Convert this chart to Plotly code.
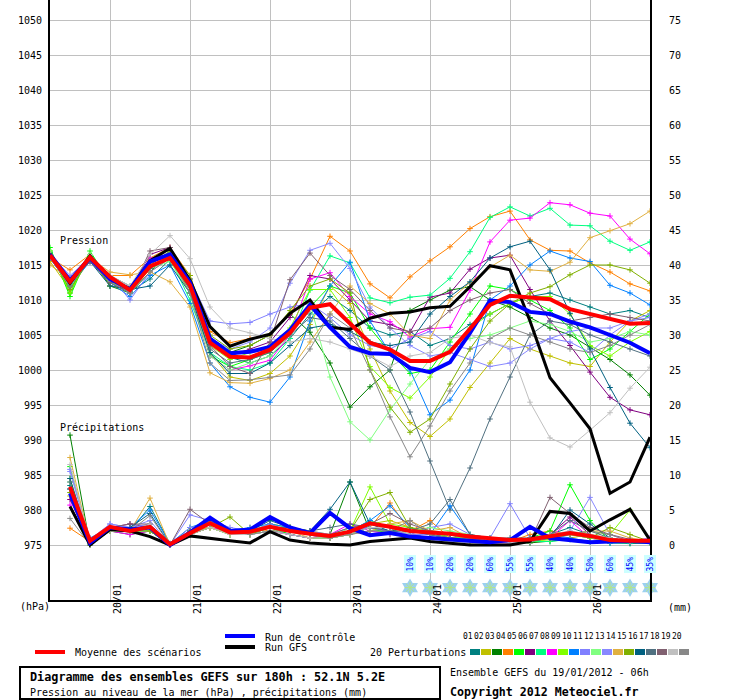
import pandas as pd
import plotly.graph_objects as go

# GEFS run of 19/01/2012 06h, one value every 6h over 180h
times = pd.date_range('2012-01-19 06:00', periods=31, freq='6h')
day_ticks = pd.date_range('2012-01-20', periods=7, freq='D')
day_labels = ['20/01', '21/01', '22/01', '23/01', '24/01', '25/01', '26/01']

# sea level pressure (hPa)
mean_p = [1016.4, 1012.6, 1016.1, 1013.3, 1011.4, 1014.8, 1016.0, 1012.1, 1003.9, 1001.9, 1001.8,
          1002.9, 1005.3, 1008.9, 1009.4, 1006.7, 1003.9, 1002.9, 1001.3, 1001.3, 1002.6,
          1005.9, 1009.3, 1010.6, 1010.4, 1010.1, 1008.7, 1008.0, 1007.3, 1006.6, 1006.7]
control_p = [1016.5, 1012.8, 1016.0, 1013.0, 1011.5, 1015.5, 1016.5, 1012.5, 1004.5, 1002.4, 1002.6,
             1003.3, 1005.7, 1009.3, 1006.1, 1003.3, 1002.4, 1002.3, 1000.3, 999.7, 1001.1,
             1005.3, 1009.9, 1009.7, 1008.3, 1008.0, 1006.9, 1006.1, 1005.0, 1003.9, 1002.4]
gfs_p = [1016.6, 1012.4, 1016.3, 1013.0, 1011.6, 1015.6, 1017.4, 1012.8, 1006.2, 1003.4, 1004.4,
         1005.1, 1008.1, 1010.0, 1006.1, 1005.8, 1007.4, 1008.1, 1008.3, 1008.9, 1009.1,
         1011.9, 1014.9, 1014.3, 1007.0, 998.9, 995.3, 991.6, 982.4, 984.0, 990.4]

p01 = [1016.8, 1012.3, 1016.2, 1013.4, 1011.2, 1013.0, 1015.8, 1011.5, 1004.0, 1001.8, 1001.0, 1002.0, 1004.5, 1008.0, 1010.5, 1008.5, 1006.0, 1005.0, 1005.5, 1003.5, 1004.5, 1006.5, 1008.0, 1009.5, 1010.5, 1011.0, 1010.0, 1009.0, 1008.0, 1008.5, 1007.5]
p02 = [1015.5, 1011.5, 1015.8, 1012.8, 1011.0, 1014.5, 1016.5, 1011.0, 1002.5, 999.0, 998.5, 999.5, 1002.0, 1006.5, 1012.0, 1009.5, 1003.0, 997.0, 992.5, 990.5, 993.0, 997.5, 1001.0, 1004.5, 1003.0, 1002.0, 1001.0, 1000.5, 1004.0, 1007.0, 1008.5]
p03 = [1017.0, 1011.0, 1016.5, 1012.0, 1011.0, 1014.0, 1017.0, 1013.0, 1004.5, 1002.5, 1003.5, 1005.0, 1008.0, 1005.4, 1001.0, 994.7, 997.6, 1000.0, 1008.5, 1010.0, 1011.4, 1011.9, 1010.0, 1009.0, 1007.5, 1006.0, 1005.0, 1003.3, 1001.5, 999.3, 996.4]
p04 = [1016.0, 1014.3, 1016.5, 1013.5, 1013.5, 1016.0, 1017.5, 1013.5, 1005.5, 1003.9, 1004.5, 1005.0, 1008.0, 1013.0, 1019.1, 1017.0, 1012.3, 1010.3, 1013.3, 1015.6, 1017.6, 1020.2, 1021.9, 1022.7, 1018.6, 1017.1, 1017.0, 1015.3, 1014.0, 1012.3, 1011.3]
p05 = [1017.5, 1010.5, 1017.0, 1012.5, 1011.0, 1016.0, 1016.5, 1011.5, 1002.0, 1000.5, 1001.5, 1002.5, 1005.5, 1009.0, 1012.0, 1011.0, 1006.0, 1002.5, 999.5, 1000.0, 1004.0, 1008.0, 1012.0, 1011.5, 1010.0, 1008.5, 1006.0, 1001.5, 1003.0, 1005.5, 1008.0]
p06 = [1016.0, 1012.0, 1016.0, 1013.0, 1011.5, 1016.5, 1017.5, 1012.5, 1004.0, 1002.0, 1003.0, 1004.0, 1007.5, 1013.5, 1013.0, 1010.0, 1007.0, 1006.5, 1005.4, 1010.4, 1011.0, 1014.4, 1016.0, 1016.4, 1011.5, 1007.0, 1003.5, 999.7, 996.1, 994.3, 993.6]
p07 = [1016.5, 1011.5, 1016.5, 1012.5, 1011.0, 1015.0, 1016.0, 1010.0, 1002.5, 1000.5, 1000.0, 1001.0, 1004.5, 1011.4, 1016.3, 1015.3, 1010.3, 1009.6, 1010.4, 1010.7, 1013.1, 1016.9, 1021.8, 1023.3, 1022.0, 1023.1, 1020.7, 1020.6, 1018.4, 1017.1, 1018.3]
p08 = [1016.0, 1012.5, 1016.0, 1013.0, 1011.5, 1016.0, 1016.5, 1011.5, 1002.0, 1000.0, 1000.6, 1001.4, 1005.0, 1013.0, 1013.9, 1010.5, 1008.0, 1006.9, 1004.7, 1005.9, 1006.1, 1011.4, 1018.3, 1021.4, 1021.7, 1023.9, 1023.6, 1022.4, 1022.0, 1018.7, 1016.6]
p09 = [1017.0, 1011.0, 1016.5, 1012.5, 1011.5, 1015.5, 1016.5, 1012.5, 1003.5, 1001.5, 1002.5, 1003.5, 1006.0, 1011.5, 1011.5, 1007.5, 1000.5, 997.5, 996.0, 999.0, 1003.0, 1006.0, 1008.0, 1009.5, 1010.5, 1010.5, 1008.0, 1003.5, 1002.0, 1004.0, 1005.5]
p10 = [1016.0, 1012.0, 1015.5, 1012.5, 1010.5, 1013.5, 1015.0, 1009.5, 1001.0, 997.6, 996.1, 995.4, 999.0, 1007.0, 1012.0, 1015.4, 1007.0, 1002.4, 1000.0, 993.6, 995.7, 1000.0, 1010.0, 1012.0, 1015.0, 1017.0, 1016.0, 1015.5, 1012.1, 1011.0, 1009.3]
p11 = [1016.0, 1013.0, 1015.5, 1013.5, 1010.0, 1014.0, 1016.0, 1013.0, 1007.0, 1006.6, 1006.8, 1008.0, 1009.0, 1009.5, 1007.5, 1005.0, 1003.5, 1003.0, 1004.5, 1005.5, 1003.5, 1003.0, 1004.0, 1003.0, 1003.5, 1004.5, 1004.0, 1002.5, 1005.0, 1007.0, 1007.5]
p12 = [1017.0, 1012.0, 1016.0, 1013.0, 1011.0, 1014.5, 1015.5, 1011.0, 1002.0, 1000.0, 1001.0, 1002.0, 1005.0, 1009.5, 999.0, 992.6, 990.0, 994.3, 998.0, 1001.5, 1003.0, 1004.5, 1005.0, 1006.0, 1007.0, 1006.5, 1005.5, 1004.0, 1004.5, 1005.5, 1005.0]
p13 = [1016.5, 1013.5, 1016.0, 1012.5, 1011.0, 1015.0, 1017.0, 1012.0, 1004.5, 1003.0, 1004.0, 1006.0, 1012.4, 1017.1, 1018.1, 1014.5, 1009.0, 1006.0, 1003.5, 1002.0, 1002.5, 1001.5, 1000.5, 1001.0, 1003.0, 1004.5, 1005.5, 1006.0, 1006.0, 1007.0, 1008.0]
p14 = [1015.0, 1013.0, 1016.0, 1014.0, 1013.6, 1014.0, 1012.6, 1009.0, 999.6, 998.2, 998.1, 998.8, 1000.0, 1004.0, 1008.0, 1012.0, 1009.5, 1008.0, 1005.0, 1004.5, 1010.0, 1012.5, 1014.7, 1016.4, 1014.3, 1014.1, 1015.4, 1018.9, 1019.9, 1020.9, 1022.7]
p15 = [1016.5, 1011.5, 1016.0, 1012.0, 1011.5, 1015.0, 1017.0, 1013.5, 1005.0, 1003.0, 1003.5, 1005.0, 1008.5, 1012.0, 1013.0, 1011.0, 1000.0, 994.7, 991.1, 993.0, 998.0, 1003.0, 1007.0, 1009.5, 1011.0, 1011.9, 1013.6, 1015.0, 1015.0, 1014.3, 1012.4]
p16 = [1016.0, 1012.5, 1015.5, 1012.0, 1011.5, 1012.0, 1015.0, 1011.0, 1002.5, 999.5, 999.5, 1001.0, 1003.5, 1006.0, 1006.5, 1005.5, 1004.0, 1003.5, 1004.0, 1008.0, 1010.5, 1012.6, 1016.0, 1017.6, 1018.4, 1014.3, 1008.1, 1003.0, 997.5, 992.4, 988.9]
p17 = [1016.5, 1012.0, 1016.0, 1013.5, 1012.0, 1014.5, 1016.0, 1011.5, 1003.0, 1001.0, 1001.5, 1002.5, 1005.0, 1007.5, 1007.0, 1004.5, 1002.0, 1000.0, 994.0, 987.0, 980.0, 986.0, 993.0, 999.0, 1005.0, 1007.0, 1006.5, 1005.0, 1004.0, 1003.0, 1002.0]
p18 = [1016.5, 1012.5, 1015.5, 1012.5, 1011.0, 1017.0, 1017.5, 1012.5, 1003.5, 1000.5, 999.5, 1004.0, 1012.9, 1016.7, 1013.5, 1011.5, 1008.5, 1006.0, 1005.5, 1006.0, 1008.5, 1010.0, 1011.0, 1011.5, 1009.5, 1008.0, 1007.0, 1007.5, 1008.0, 1007.5, 1007.0]
p19 = [1016.5, 1012.5, 1016.5, 1013.5, 1012.0, 1016.5, 1019.2, 1015.9, 1009.0, 1006.0, 1005.3, 1004.5, 1004.0, 1004.5, 1004.0, 1003.0, 1002.0, 1000.5, 1002.0, 1002.5, 1004.5, 1005.0, 1003.9, 1003.3, 995.4, 990.3, 989.0, 991.4, 993.9, 997.4, 1000.4]
p20 = [1016.0, 1012.0, 1016.0, 1013.0, 1011.0, 1014.0, 1016.0, 1011.0, 1001.0, 998.5, 998.6, 999.0, 999.3, 1003.0, 1008.0, 1006.0, 1000.0, 993.3, 987.6, 992.0, 997.0, 1001.0, 1004.5, 1006.0, 1005.0, 1004.0, 1003.0, 1002.5, 1003.5, 1005.0, 1006.5]

# precipitation (mm), from +6h
mean_r = [8.3, 0.6, 2.6, 2.0, 2.6, 0.1, 1.7, 3.1, 1.8, 1.9, 2.6, 2.0, 1.6, 1.3, 1.9, 3.1, 2.6, 2.0, 1.8, 1.6,
          1.2, 1.0, 0.7, 0.8, 1.3, 1.7, 1.3, 0.7, 0.6, 0.6]
control_r = [7.4, 0.3, 2.5, 2.2, 2.5, 0.0, 1.8, 3.9, 2.0, 2.2, 4.0, 2.5, 1.7, 4.6, 2.4, 1.4, 1.7, 1.2, 1.0, 0.8,
             0.5, 0.4, 0.7, 2.6, 1.0, 0.7, 0.4, 0.5, 0.6, 0.4]
gfs_r = [5.5, 0.0, 2.2, 2.0, 1.2, 0.0, 1.3, 0.9, 0.6, 0.3, 1.9, 0.7, 0.3, 0.1, 0.0, 0.5, 0.7, 1.0, 0.5, 0.2,
         0.0, 0.0, 0.0, 0.5, 4.8, 4.5, 2.0, 3.6, 5.1, 0.7]

r01 = [8.5, 0.5, 2.5, 2.0, 5.5, 0.2, 1.5, 3.5, 1.5, 2.0, 2.5, 1.5, 1.0, 1.0, 1.5, 2.5, 2.0, 1.5, 1.0, 1.0, 0.5, 0.5, 0.3, 0.5, 1.5, 2.5, 1.5, 0.5, 0.3, 0.5]
r02 = [7.0, 0.3, 2.0, 2.5, 2.0, 0.0, 2.0, 2.5, 2.0, 1.5, 3.0, 2.5, 2.0, 1.5, 2.0, 3.0, 3.5, 2.5, 2.0, 1.0, 1.0, 0.5, 0.5, 0.5, 0.8, 1.0, 1.5, 1.0, 0.5, 0.5]
r03 = [15.7, 0.0, 2.0, 1.5, 2.0, 0.0, 1.5, 2.5, 1.5, 1.5, 2.0, 1.5, 1.0, 1.5, 9.0, 2.0, 2.0, 2.5, 1.5, 1.0, 0.8, 0.5, 0.3, 0.3, 0.5, 0.8, 0.5, 0.3, 0.2, 0.3]
r04 = [2.4, 0.5, 2.0, 2.5, 2.5, 0.0, 2.0, 3.0, 1.5, 2.5, 2.0, 2.5, 1.5, 1.0, 1.5, 2.5, 6.0, 2.0, 3.5, 1.0, 0.5, 0.5, 0.5, 1.5, 2.0, 1.5, 1.0, 0.5, 0.5, 0.3]
r05 = [11.2, 0.5, 2.0, 2.5, 2.0, 0.0, 2.0, 2.5, 1.5, 1.5, 2.5, 1.5, 1.0, 1.0, 1.5, 2.5, 1.5, 1.5, 1.0, 0.5, 0.5, 0.5, 0.5, 1.0, 2.0, 8.6, 3.5, 0.5, 0.3, 0.5]
r06 = [6.5, 0.3, 2.5, 3.0, 2.5, 0.0, 1.5, 3.0, 2.0, 2.0, 2.5, 2.0, 1.5, 1.0, 2.0, 2.5, 2.0, 1.5, 1.5, 1.0, 1.0, 0.5, 0.5, 1.0, 1.5, 4.0, 1.5, 0.5, 0.5, 0.5]
r07 = [8.0, 0.5, 2.0, 2.0, 2.0, 0.0, 1.5, 3.0, 1.5, 1.5, 2.0, 1.5, 1.0, 1.0, 2.0, 3.5, 2.5, 1.5, 1.0, 1.5, 0.5, 0.5, 0.5, 0.5, 0.5, 0.8, 0.5, 0.3, 0.3, 0.5]
r08 = [5.7, 0.3, 2.0, 1.5, 2.0, 0.0, 1.5, 2.5, 2.0, 1.5, 2.0, 1.5, 1.0, 1.5, 3.0, 2.0, 1.5, 1.5, 1.5, 1.0, 0.5, 0.3, 0.3, 0.5, 1.0, 3.5, 1.0, 0.5, 0.5, 1.0]
r09 = [9.5, 0.3, 2.5, 2.0, 2.5, 0.0, 2.5, 3.0, 2.0, 2.0, 3.0, 2.5, 1.5, 1.5, 2.0, 8.3, 3.0, 2.5, 2.0, 1.0, 1.0, 0.5, 0.5, 0.5, 0.8, 1.5, 2.0, 1.5, 5.0, 0.5]
r10 = [8.0, 1.0, 2.5, 2.5, 5.0, 0.2, 2.5, 3.5, 2.0, 2.5, 3.0, 2.5, 1.5, 1.0, 2.0, 3.5, 5.6, 2.5, 1.5, 5.6, 1.5, 0.5, 0.5, 0.5, 1.5, 1.0, 0.5, 0.3, 0.3, 0.3]
r11 = [10.8, 0.8, 3.0, 2.5, 3.0, 0.0, 4.3, 3.5, 2.5, 2.0, 3.0, 2.0, 2.0, 1.5, 2.5, 2.5, 2.0, 1.5, 2.5, 3.0, 1.5, 1.0, 5.9, 1.0, 1.0, 1.5, 1.0, 0.5, 0.5, 0.5]
r12 = [9.0, 0.5, 2.0, 2.0, 2.0, 0.0, 1.5, 2.5, 1.5, 1.5, 2.0, 2.0, 1.5, 1.0, 2.5, 3.0, 2.5, 2.0, 2.5, 2.0, 1.5, 1.0, 0.5, 0.5, 1.0, 1.5, 1.0, 0.5, 0.5, 0.3]
r13 = [10.5, 0.5, 3.0, 2.5, 3.5, 0.0, 2.5, 3.0, 2.0, 2.0, 2.5, 2.0, 1.5, 1.0, 2.0, 2.5, 2.0, 1.5, 1.5, 1.0, 0.5, 0.5, 0.5, 0.5, 1.0, 2.0, 6.8, 1.5, 0.5, 1.0]
r14 = [12.5, 0.3, 2.5, 2.0, 6.7, 0.0, 2.0, 2.5, 1.5, 2.0, 2.5, 2.0, 1.0, 1.0, 1.5, 2.0, 3.0, 3.5, 2.0, 2.5, 1.0, 0.5, 0.5, 1.0, 1.5, 1.5, 2.0, 2.0, 1.0, 0.5]
r15 = [7.5, 0.5, 2.0, 2.0, 2.0, 0.0, 1.5, 2.5, 4.0, 1.5, 2.5, 2.0, 1.5, 1.0, 2.0, 6.5, 7.5, 2.5, 1.5, 1.0, 0.5, 0.5, 0.5, 0.5, 1.0, 1.5, 1.0, 2.5, 1.5, 0.5]
r16 = [9.5, 0.3, 2.5, 2.5, 4.5, 0.0, 2.0, 3.0, 2.0, 2.0, 3.5, 2.5, 2.0, 5.1, 9.0, 3.0, 2.0, 2.0, 1.5, 1.0, 0.5, 0.5, 0.5, 0.5, 1.0, 5.0, 3.0, 1.0, 0.5, 0.5]
r17 = [9.0, 0.5, 2.5, 2.0, 3.0, 0.0, 2.0, 3.5, 2.0, 2.0, 2.5, 2.5, 2.0, 2.5, 3.0, 2.5, 2.0, 2.0, 3.0, 6.5, 1.5, 1.0, 1.0, 1.0, 1.5, 3.5, 2.0, 1.0, 0.5, 0.5]
r18 = [8.0, 0.5, 2.5, 3.0, 3.0, 0.0, 5.1, 3.0, 2.0, 2.0, 2.5, 2.0, 1.5, 1.5, 2.5, 3.0, 4.5, 3.0, 2.0, 1.5, 1.0, 0.5, 0.5, 0.5, 6.8, 4.5, 2.5, 1.5, 0.8, 0.5]
r19 = [11.5, 0.3, 2.0, 2.0, 3.0, 0.0, 1.5, 2.5, 1.5, 1.5, 2.0, 1.5, 1.0, 1.0, 1.5, 2.5, 2.5, 1.5, 1.0, 0.5, 0.3, 0.3, 0.3, 0.5, 1.5, 2.0, 1.5, 1.0, 0.5, 0.5]
r20 = [3.8, 0.0, 2.5, 2.0, 4.2, 0.0, 2.0, 3.0, 2.0, 1.5, 2.0, 2.0, 1.5, 1.0, 1.5, 2.0, 2.0, 3.5, 1.5, 1.0, 0.5, 0.5, 0.5, 0.5, 1.0, 1.5, 2.0, 1.5, 0.5, 0.5]

pert_colors = ['#008080', '#c0c000', '#008000', '#ff8000', '#00ff00', '#800080', '#00ff80',
               '#ff00ff', '#80ff00', '#0080ff', '#8080ff', '#80ff80', '#8888ff', '#e0b040',
               '#80b000', '#006080', '#507080', '#806070', '#c0c0c0', '#888888']

# snow probability (%) from 24/01 00h
snow_pct = [10, 10, 20, 20, 60, 55, 55, 40, 40, 50, 60, 45, 35]

pert_p = [p01, p02, p03, p04, p05, p06, p07, p08, p09, p10,
          p11, p12, p13, p14, p15, p16, p17, p18, p19, p20]
pert_r = [r01, r02, r03, r04, r05, r06, r07, r08, r09, r10,
          r11, r12, r13, r14, r15, r16, r17, r18, r19, r20]

FONT = 'DejaVu Sans Mono'
W, H = 740, 700
L, R, T, B = 50, 90, 0, 100


def px(x):
    return (x - L) / (W - L - R)


def py(y):
    return (H - B - y) / (H - T - B)


fig = go.Figure()

for k in range(20):
    c = pert_colors[k]
    mk = dict(symbol='cross-thin', size=4, line=dict(width=1, color=c), color=c)
    fig.add_trace(go.Scatter(x=times, y=pert_p[k], mode='lines+markers',
                             line=dict(color=c, width=1), marker=mk))
    fig.add_trace(go.Scatter(x=times[1:], y=pert_r[k], mode='lines+markers', yaxis='y2',
                             line=dict(color=c, width=1), marker=mk))

fig.add_trace(go.Scatter(x=times, y=gfs_p, mode='lines', line=dict(color='black', width=3)))
fig.add_trace(go.Scatter(x=times[1:], y=gfs_r, mode='lines', yaxis='y2',
                         line=dict(color='black', width=3)))
fig.add_trace(go.Scatter(x=times, y=control_p, mode='lines', line=dict(color='#0000ff', width=4)))
fig.add_trace(go.Scatter(x=times[1:], y=control_r, mode='lines', yaxis='y2',
                         line=dict(color='#0000ff', width=4)))
fig.add_trace(go.Scatter(x=times, y=mean_p, mode='lines', line=dict(color='#ff0000', width=4)))
fig.add_trace(go.Scatter(x=times[1:], y=mean_r, mode='lines', yaxis='y2',
                         line=dict(color='#ff0000', width=4)))

# snowflakes
snow_t = times[18:]
fig.add_trace(go.Scatter(x=snow_t, y=[968.9] * len(snow_t), mode='markers', cliponaxis=False,
                         marker=dict(symbol='hexagram', size=14, color='#9cd0f0',
                                     line=dict(width=0))))
fig.add_trace(go.Scatter(x=snow_t, y=[968.9] * len(snow_t), mode='markers', cliponaxis=False,
                         marker=dict(symbol='asterisk-open', size=9,
                                     line=dict(width=1, color='white'))))

ann = []
for t, pct in zip(snow_t, snow_pct):
    ann.append(dict(x=t, y=py(574), xref='x', yref='paper', text=f'{pct}%', showarrow=False,
                    textangle=-90, bgcolor='#ccffff', font=dict(size=8, color='#0000ff')))

for d, lab in zip(day_ticks, day_labels):
    ann.append(dict(x=d, y=py(616), xref='x', yref='paper', text=lab, showarrow=False,
                    textangle=-90, xshift=7, font=dict(size=10)))


def text(x, y, s, size=10, bold=False):
    if bold:
        s = '<b>' + s + '</b>'
    ann.append(dict(x=px(x), y=py(y), xref='paper', yref='paper', text=s, showarrow=False,
                    xanchor='left', yanchor='middle', font=dict(size=size)))


text(18, 606, '(hPa)')
text(666, 607, '(mm)')
text(58, 241, 'Pression')
text(58, 427, 'Précipitations')
text(73, 652, 'Moyenne des scénarios')
text(263, 637, 'Run de contrôle')
text(263, 647, 'Run GFS')
text(368, 652, '20 Perturbations')
text(28, 677, 'Diagramme des ensembles GEFS sur 180h : 52.1N 5.2E', size=11.8, bold=True)
text(28, 692, 'Pression au niveau de la mer (hPa) , précipitations (mm)')
text(448, 672, 'Ensemble GEFS du 19/01/2012 - 06h')
text(448, 692, 'Copyright 2012 Meteociel.fr', size=11.6, bold=True)

shapes = []


def hline(x0, x1, y, color, width):
    shapes.append(dict(type='line', xref='paper', yref='paper', x0=px(x0), x1=px(x1),
                       y0=py(y), y1=py(y), line=dict(color=color, width=width)))


hline(35, 65, 652, '#ff0000', 4)
hline(225, 255, 636, '#0000ff', 4)
hline(225, 255, 647, 'black', 4)

for k, c in enumerate(pert_colors):
    x0 = 470 + 11 * k
    shapes.append(dict(type='rect', xref='paper', yref='paper', x0=px(x0), x1=px(x0 + 10),
                       y0=py(655), y1=py(649), fillcolor=c, line=dict(width=0)))
    ann.append(dict(x=px(x0 + 5), y=py(643), xref='paper', yref='paper', text=f'{k + 1:02d}',
                    showarrow=False, font=dict(size=8)))

shapes.append(dict(type='rect', xref='paper', yref='paper', x0=px(20), x1=px(440),
                   y0=py(667), y1=py(699), line=dict(color='black', width=2)))

fig.update_layout(
    width=W, height=H, margin=dict(l=L, r=R, t=T, b=B), showlegend=False,
    plot_bgcolor='white', paper_bgcolor='white', hovermode=False,
    font=dict(family=FONT, size=10, color='black'),
    annotations=ann, shapes=shapes,
    xaxis=dict(type='date', range=[times[0], times[-1]], tickvals=day_ticks,
               showticklabels=False, ticks='', showgrid=True, gridcolor='#c0c0c0', gridwidth=1,
               showline=True, linecolor='black', linewidth=2, zeroline=False),
    yaxis=dict(range=[967.142857, 1052.857143], tickvals=list(range(975, 1051, 5)),
               showgrid=True, gridcolor='#c0c0c0', gridwidth=1, zeroline=False, ticks='',
               showline=True, linecolor='black', linewidth=2, ticklabelstandoff=4),
    yaxis2=dict(range=[-7.857143, 77.857143], tickvals=list(range(0, 76, 5)), overlaying='y',
                side='right', showgrid=False, zeroline=False, ticks='', showline=True,
                linecolor='black', linewidth=2, ticklabelstandoff=15),
)

# the page's default body margin would push the chart off by a few pixels
fig.write_html('out.html', config={'displayModeBar': False},
               post_script="document.body.style.margin = '0px';")
